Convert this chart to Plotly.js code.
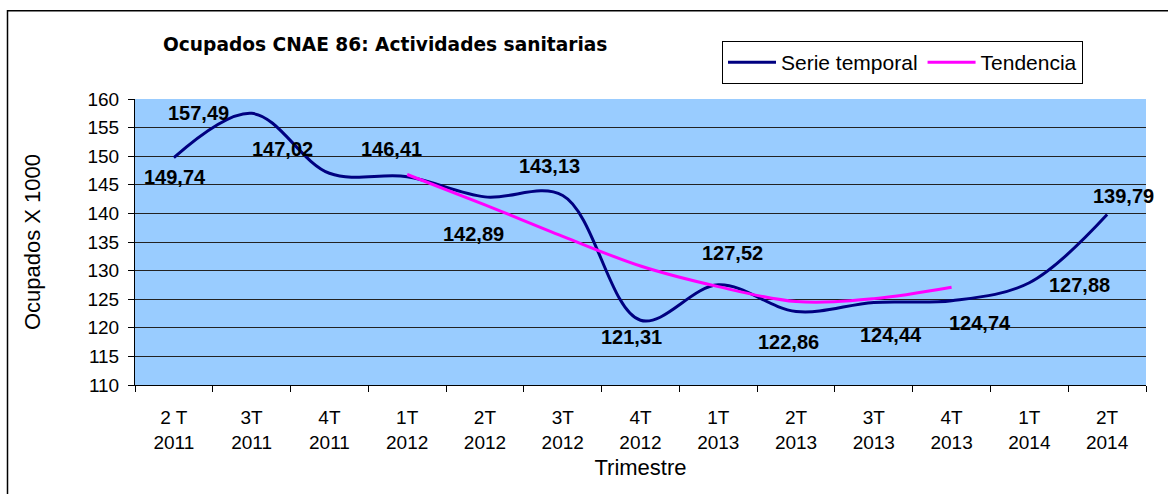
<!DOCTYPE html>
<html>
<head>
<meta charset="utf-8">
<script src="https://cdn.plot.ly/plotly-3.0.1.min.js"></script>
<style>
html,body{margin:0;padding:0;background:#fff;}
#chart{width:1168px;height:494px;}
</style>
</head>
<body>
<div id="chart"></div>
<script>
// ---- data ----
const categories = ["2T 2011","3T 2011","4T 2011","1T 2012","2T 2012","3T 2012","4T 2012","1T 2013","2T 2013","3T 2013","4T 2013","1T 2014","2T 2014"];
const tickLabels = ["2 T<br>2011","3T<br>2011","4T<br>2011","1T<br>2012","2T<br>2012","3T<br>2012","4T<br>2012","1T<br>2013","2T<br>2013","3T<br>2013","4T<br>2013","1T<br>2014","2T<br>2014"];
const serieTemporal = [149.74,157.49,147.02,146.41,142.89,143.13,121.31,127.52,122.86,124.44,124.74,127.88,139.79];
const trendCategories = ["1T 2012","2T 2012","3T 2012","4T 2012","1T 2013","2T 2013","3T 2013","4T 2013"];
const tendencia = [146.8,141.5,136.0,130.8,127.2,124.6,125.1,127.1];

// label placement (pixel shifts relative to each point)
const labelShiftX = [1,-53,-47,-16,-11,-13,-9,14,-8,17,28,50,16];
const labelShiftY = [-19,0,24,28,-37,30,-17,32,-31,-33,-22,-2,19];

const fmt = v => v.toFixed(2).replace('.', ',');
const ARIAL = 'Liberation Sans, Arial, sans-serif';

const annotations = categories.map((c,i)=>({
  x: c, y: serieTemporal[i], xref:'x', yref:'y',
  text: '<b>' + fmt(serieTemporal[i]) + '</b>', showarrow:false,
  xshift: labelShiftX[i], yshift: labelShiftY[i],
  font:{family:ARIAL, size:20, color:'#000'}
}));

const traces = [
  {x: categories, y: serieTemporal, type:'scatter', mode:'lines', name:'Serie temporal',
   line:{color:'#000080', width:3, shape:'spline', smoothing:1}},
  {x: trendCategories, y: tendencia, type:'scatter', mode:'lines', name:'Tendencia',
   line:{color:'#FF00FF', width:3, shape:'spline', smoothing:1}}
];

const layout = {
  width:1168, height:494,
  margin:{l:135, r:22, t:99, b:109, pad:0},
  paper_bgcolor:'#ffffff', plot_bgcolor:'#99CCFF',
  font:{family:ARIAL, color:'#000'},
  title:{text:'<b>Ocupados CNAE 86: Actividades sanitarias</b>',
    font:{family:'DejaVu Sans, Verdana, sans-serif', size:18.6, color:'#000'},
    xref:'container', yref:'container', x:163/1168, xanchor:'left', y:1-44/494, yanchor:'middle'},
  showlegend:true,
  legend:{orientation:'h', x:(722-135)/1011, xanchor:'left', y:(385-41)/286, yanchor:'top',
    bgcolor:'#fff', bordercolor:'#000', borderwidth:1,
    font:{family:ARIAL, size:21, color:'#000'},
    itemwidth:48, tracegroupgap:0},
  xaxis:{type:'category', categoryarray:categories, categoryorder:'array',
    tickvals:categories, ticktext:tickLabels, tickson:'boundaries',
    ticks:'outside', ticklen:6, tickcolor:'#000', showline:true, linecolor:'#000', linewidth:1,
    showgrid:false, zeroline:false, range:[-0.5,12.5], ticklabelstandoff:15,
    tickfont:{family:ARIAL, size:19, color:'#000'},
    title:{text:'Trimestre', font:{family:ARIAL, size:22, color:'#000'}, standoff:8},
    automargin:false},
  yaxis:{range:[110,160], dtick:5, tick0:110, ticks:'outside', ticklen:6, tickcolor:'#000',
    showline:true, linecolor:'#000', linewidth:1, showgrid:true, gridcolor:'#222', gridwidth:1,
    zeroline:false, ticklabelstandoff:5,
    tickfont:{family:ARIAL, size:19, color:'#000'},
    title:{text:'Ocupados X 1000', font:{family:ARIAL, size:22, color:'#000'}, standoff:40},
    automargin:false},
  annotations: annotations,
  shapes:[{type:'rect', xref:'paper', yref:'paper', x0:(7.5-135)/1011, x1:1.2, y0:-0.6, y1:(385-10.7)/286,
    line:{color:'#000', width:1.5}, fillcolor:'rgba(0,0,0,0)', layer:'below'}]
};

Plotly.newPlot('chart', traces, layout, {displayModeBar:false, staticPlot:true});
</script>
</body>
</html>
